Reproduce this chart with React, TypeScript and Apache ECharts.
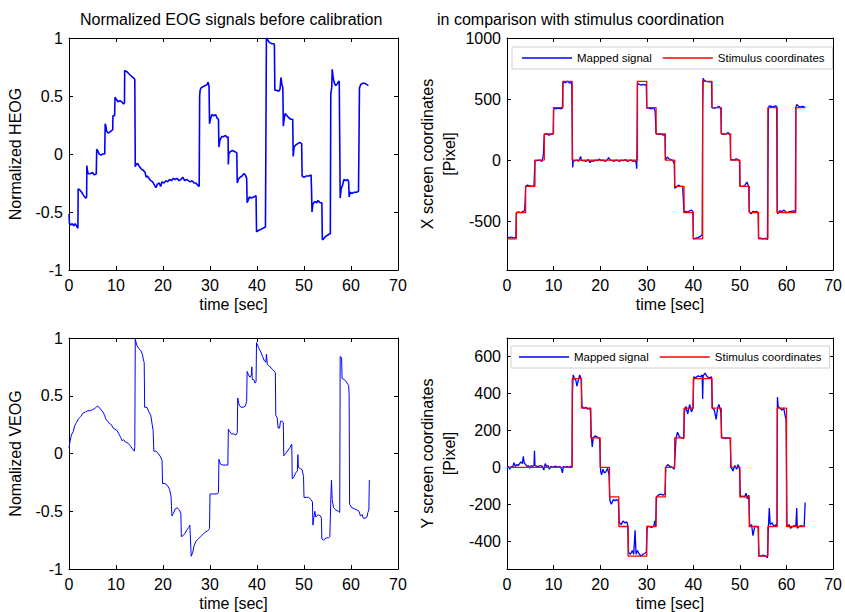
import React, { useEffect, useRef } from 'react';
import * as echarts from 'echarts';

const FONT = 'Liberation Sans, Arial, Helvetica, sans-serif';

const timeRange = [0, 70];
const timeInterval = 10;
const normTicks = [-1, -0.5, 0, 0.5, 1];
const pixelXTicks = [-500, 0, 500, 1000];
const pixelYTicks = [-400, -200, 0, 200, 400, 600];

const titles = ['Normalized EOG signals before calibration', 'in comparison with stimulus coordination'];
const legendNames = ['Mapped signal', 'Stimulus coordinates'];

// Normalized HEOG [time, value]
const heog: [number, number][] = [
  [0, -0.52], [0.1, -0.6], [0.4, -0.61], [0.7, -0.6], [1.0, -0.62], [1.3, -0.6], [1.6, -0.62], [1.9, -0.64],
  [1.95, -0.3], [2.3, -0.31], [2.7, -0.33], [3.0, -0.35], [3.3, -0.37], [3.6, -0.38], [3.75, -0.37],
  [3.8, -0.1], [3.9, -0.14], [4.1, -0.17], [4.5, -0.17], [5.0, -0.16], [5.4, -0.18], [5.8, -0.17],
  [5.9, 0.04], [6.1, 0.03], [6.4, 0.0], [6.8, -0.01], [7.2, 0.0], [7.6, 0.0],
  [7.7, 0.26], [7.85, 0.24], [8.0, 0.2], [8.3, 0.18], [8.7, 0.19], [9.0, 0.2], [9.3, 0.21],
  [9.35, 0.33], [9.7, 0.33], [9.8, 0.49], [10.1, 0.47], [10.4, 0.45], [10.8, 0.46], [11.2, 0.45], [11.6, 0.43], [11.8, 0.44],
  [11.85, 0.72], [12.3, 0.71], [12.8, 0.69], [13.3, 0.67], [13.9, 0.65], [14.0, 0.64],
  [14.1, -0.11], [14.3, -0.09], [14.6, -0.08], [15.0, -0.11], [15.4, -0.13], [15.8, -0.14], [16.2, -0.16], [16.4, -0.2],
  [16.7, -0.19], [17.0, -0.21], [17.4, -0.23], [17.8, -0.24], [18.2, -0.27], [18.5, -0.29], [18.8, -0.26], [19.2, -0.25],
  [19.5, -0.28], [19.8, -0.24], [20.2, -0.25], [20.6, -0.23], [21.0, -0.24], [21.4, -0.22], [21.8, -0.23], [22.2, -0.21],
  [22.6, -0.22], [23.0, -0.21], [23.4, -0.23], [23.8, -0.22], [24.2, -0.2], [24.6, -0.23], [25.0, -0.22], [25.4, -0.23],
  [25.8, -0.24], [26.2, -0.23], [26.6, -0.25], [27.0, -0.25], [27.4, -0.27], [27.7, -0.28],
  [27.8, 0.5], [27.9, 0.55], [28.1, 0.57], [28.5, 0.58], [29.0, 0.59], [29.4, 0.6], [29.6, 0.62], [29.8, 0.58],
  [29.9, 0.26], [30.1, 0.3], [30.4, 0.34], [30.8, 0.33], [31.2, 0.34], [31.5, 0.31], [31.8, 0.3],
  [31.9, 0.06], [32.1, 0.12], [32.5, 0.15], [32.9, 0.15], [33.3, 0.16], [33.7, 0.14], [33.85, 0.15],
  [33.9, -0.09], [34.0, 0.0], [34.3, 0.02], [34.8, 0.03], [35.3, 0.02], [35.7, 0.01],
  [35.8, -0.25], [36.0, -0.22], [36.4, -0.2], [36.8, -0.19], [37.2, -0.17], [37.5, -0.18], [37.8, -0.21],
  [37.9, -0.42], [38.1, -0.4], [38.4, -0.37], [38.8, -0.38], [39.3, -0.37], [39.8, -0.36],
  [39.9, -0.67], [40.3, -0.66], [40.8, -0.65], [41.3, -0.64], [41.8, -0.63], [41.9, -0.63],
  [42.0, 1.0], [42.3, 0.98], [42.7, 0.96], [43.2, 0.95], [43.6, 0.95], [43.7, 0.94],
  [43.8, 0.55], [44.2, 0.55], [44.6, 0.54], [44.9, 0.56], [45.1, 0.66], [45.3, 0.6], [45.5, 0.57],
  [45.6, 0.24], [45.8, 0.31], [46.0, 0.35], [46.4, 0.33], [46.8, 0.31], [47.2, 0.3], [47.6, 0.3],
  [47.7, -0.02], [47.9, 0.06], [48.3, 0.08], [48.7, 0.09], [49.1, 0.1], [49.5, 0.09],
  [49.6, -0.19], [50.0, -0.2], [50.5, -0.19], [51.0, -0.19], [51.5, -0.18], [51.6, -0.3],
  [51.7, -0.5], [51.9, -0.43], [52.3, -0.41], [52.7, -0.42], [53.0, -0.4], [53.4, -0.42], [53.8, -0.42],
  [53.9, -0.74], [54.2, -0.73], [54.6, -0.71], [55.0, -0.7], [55.4, -0.69], [55.6, -0.69],
  [55.7, 0.52], [55.9, 0.57], [56.0, 0.73], [56.2, 0.66], [56.4, 0.62], [56.7, 0.59], [57.0, 0.6], [57.3, 0.62], [57.5, 0.63],
  [57.7, -0.38], [57.9, -0.3], [58.2, -0.27], [58.5, -0.22], [58.9, -0.23], [59.3, -0.22], [59.5, -0.24],
  [59.6, -0.37], [59.8, -0.33], [60.2, -0.34], [60.7, -0.33], [61.2, -0.33], [61.6, -0.32],
  [61.8, 0.57], [62.1, 0.6], [62.5, 0.61], [62.9, 0.61], [63.3, 0.6], [63.7, 0.59],
];

// Normalized VEOG [time, value]
const veog: [number, number][] = [
  [0, 0.05], [0.2, 0.1], [0.5, 0.16], [0.9, 0.19], [1.2, 0.24], [1.6, 0.27], [2.0, 0.3], [2.5, 0.32], [3.0, 0.35],
  [3.5, 0.36], [4.0, 0.37], [4.5, 0.37], [5.0, 0.38], [5.5, 0.39], [6.0, 0.41], [6.4, 0.4], [6.8, 0.38], [7.2, 0.36],
  [7.6, 0.33], [7.8, 0.3], [8.2, 0.28], [8.6, 0.26], [9.0, 0.25], [9.4, 0.22], [9.8, 0.21], [10.2, 0.2], [10.6, 0.17],
  [11.0, 0.14], [11.3, 0.11], [11.6, 0.12], [12.0, 0.1], [12.5, 0.09], [13.0, 0.07], [13.5, 0.04], [13.9, 0.02], [14.0, 0.06],
  [14.1, 0.99], [14.4, 0.94], [14.8, 0.91], [15.3, 0.89], [15.6, 0.86], [15.9, 0.8], [16.0, 0.79],
  [16.1, 0.4], [16.6, 0.4], [17.0, 0.36], [17.4, 0.33], [17.7, 0.25], [17.9, 0.2],
  [18.05, 0.02], [18.5, 0.02], [19.0, 0.0], [19.5, -0.03], [19.8, -0.06],
  [19.9, -0.26], [20.4, -0.26], [21.0, -0.28], [21.4, -0.31], [21.7, -0.37], [21.8, -0.45],
  [21.9, -0.54], [22.2, -0.52], [22.6, -0.48], [23.0, -0.47], [23.5, -0.49], [23.8, -0.52],
  [23.9, -0.72], [24.3, -0.71], [24.7, -0.69], [25.1, -0.66], [25.5, -0.64], [25.7, -0.62], [25.8, -0.7],
  [26.0, -0.89], [26.3, -0.86], [26.6, -0.8], [27.0, -0.76], [27.5, -0.74], [28.0, -0.72], [28.5, -0.7], [29.0, -0.68],
  [29.5, -0.67], [29.9, -0.65],
  [30.0, -0.35], [30.5, -0.35], [31.0, -0.35], [31.5, -0.35], [31.8, -0.34],
  [31.9, -0.05], [32.2, -0.09], [32.7, -0.1], [33.2, -0.1], [33.8, -0.1],
  [33.9, 0.21], [34.2, 0.19], [34.6, 0.17], [35.0, 0.17], [35.5, 0.16], [35.8, 0.18],
  [35.9, 0.48], [36.2, 0.42], [36.6, 0.4], [37.0, 0.4], [37.5, 0.41], [37.8, 0.45],
  [37.9, 0.71], [38.2, 0.68], [38.5, 0.66], [38.8, 0.68], [38.9, 0.75], [39.0, 0.64], [39.3, 0.64], [39.6, 0.61], [39.8, 0.62],
  [39.9, 0.96], [40.3, 0.92], [40.8, 0.88], [41.2, 0.84], [41.6, 0.8], [41.9, 0.79], [42.0, 0.86], [42.2, 0.77],
  [42.6, 0.76], [43.0, 0.74], [43.5, 0.72], [43.9, 0.7],
  [44.0, 0.33], [44.3, 0.31], [44.5, 0.22], [44.8, 0.22], [45.0, 0.28], [45.3, 0.28], [45.6, 0.27],
  [45.7, -0.02], [46.1, 0.0], [46.6, 0.03], [47.0, 0.05], [47.4, 0.08],
  [47.5, -0.22], [47.9, -0.2], [48.2, -0.17], [48.6, -0.15], [48.7, -0.01], [48.8, -0.12], [49.2, -0.13], [49.6, -0.14], [49.9, -0.2],
  [50.0, -0.38], [50.5, -0.38], [51.0, -0.38], [51.5, -0.4], [51.8, -0.42],
  [51.9, -0.62], [52.1, -0.55], [52.3, -0.5], [52.5, -0.55], [53.0, -0.53], [53.5, -0.54], [53.7, -0.56],
  [53.8, -0.74], [54.2, -0.75], [54.7, -0.73], [55.2, -0.73], [55.5, -0.72],
  [55.7, -0.4], [55.85, -0.23], [56.0, -0.4], [56.3, -0.47], [56.8, -0.49], [57.3, -0.5], [57.6, -0.51],
  [57.7, 0.84], [58.0, 0.83], [58.1, 0.65], [58.6, 0.64], [59.0, 0.62], [59.3, 0.6], [59.5, 0.59], [59.6, 0.51],
  [59.7, -0.44], [60.2, -0.47], [60.8, -0.48], [61.3, -0.49], [61.7, -0.5], [62.0, -0.54], [62.4, -0.53],
  [62.6, -0.56], [63.0, -0.56], [63.4, -0.55], [63.6, -0.51], [63.8, -0.49], [63.9, -0.23],
];

// Mapped horizontal signal [time, pixel]
const mappedX: [number, number][] = [
  [0, -630], [0.5, -635], [1.0, -630], [1.5, -640], [1.9, -630],
  [2.0, -430], [2.5, -425], [3.0, -430], [3.5, -420], [3.8, -410], [3.9, -320],
  [4.0, -215], [4.4, -205], [4.8, -210], [5.3, -215], [5.8, -210],
  [6.0, -5], [6.5, -5], [7.0, 0], [7.5, -10], [7.8, 40],
  [8.0, 210], [8.5, 215], [9.0, 205], [9.5, 210], [9.9, 215],
  [10.0, 425], [10.5, 420], [11.0, 425], [11.5, 420], [11.9, 425],
  [12.0, 640], [12.5, 635], [13.0, 645], [13.5, 630], [13.9, 635],
  [14.1, -60], [14.2, -10], [14.6, -5], [15.0, 0], [15.4, -10], [15.8, 30], [16.0, -5], [16.5, -5], [17.0, -10],
  [17.4, 5], [17.8, -20], [18.2, -5], [18.6, -10], [19.0, 0], [19.4, -5], [19.8, 10], [20.2, -5], [20.6, 0],
  [21.0, -10], [21.4, -5], [21.8, 20], [22.2, 0], [22.6, -5], [23.0, -10], [23.4, 0], [23.8, -5], [24.2, -10],
  [24.6, 0], [25.0, -5], [25.4, 5], [25.8, -10], [26.2, -5], [26.6, 0], [27.0, -10], [27.4, -5], [27.7, -15],
  [27.85, -70], [27.9, 100],
  [28.0, 630], [28.4, 620], [28.8, 615], [29.2, 620], [29.6, 615], [29.9, 620],
  [30.0, 425], [30.5, 425], [31.0, 420], [31.5, 430], [31.8, 400],
  [32.0, 215], [32.5, 210], [33.0, 215], [33.5, 205], [33.9, 210],
  [34.0, 0], [34.4, 25], [34.8, 10], [35.2, 5], [35.6, -5], [35.9, -30],
  [36.0, -230], [36.4, -220], [36.8, -205], [37.2, -215], [37.7, -215],
  [38.0, -430], [38.4, -420], [38.8, -425], [39.2, -415], [39.6, -410], [39.9, -420],
  [40.0, -645], [40.5, -640], [41.0, -635], [41.5, -625], [41.9, -610],
  [42.0, 400], [42.1, 670], [42.4, 650], [42.8, 645], [43.3, 640], [43.9, 640],
  [44.0, 430], [44.5, 425], [45.0, 430], [45.5, 440], [45.9, 420],
  [46.0, 215], [46.5, 210], [47.0, 215], [47.5, 225], [47.9, 205],
  [48.0, 0], [48.4, 5], [48.8, 0], [49.2, 10], [49.6, 5], [49.9, -10],
  [50.0, -215], [50.5, -215], [51.0, -210], [51.5, -180], [51.9, -220],
  [52.0, -420], [52.4, -440], [52.8, -420], [53.2, -425], [53.6, -420], [53.9, -430],
  [54.0, -640], [54.5, -640], [55.0, -645], [55.5, -640], [55.9, -650],
  [56.1, 420], [56.3, 445], [56.7, 440], [57.1, 435], [57.5, 445], [57.9, 440],
  [58.0, -420], [58.1, -440], [58.5, -415], [59.0, -420], [59.5, -410], [60.0, -430], [60.5, -425], [61.0, -420],
  [61.5, -415], [61.9, -420],
  [62.0, 430], [62.2, 455], [62.6, 440], [63.0, 435], [63.5, 440], [64.0, 430],
];

// Stimulus horizontal coordinate: [segment start time, pixel]
const stimulusX: [number, number][] = [
  [0, -645], [2, -430], [4, -215], [6, 0], [8, 215], [10, 430], [12, 645], [14, 0], [28, 645], [30, 430],
  [32, 215], [34, 0], [36, -215], [38, -430], [40, -645], [42, 645], [44, 430], [46, 215], [48, 0],
  [50, -215], [52, -430], [54, -645], [56, 430], [58, -430], [62, 430], [64, 430],
];

// Mapped vertical signal [time, pixel]
const mappedY: [number, number][] = [
  [0, 0], [0.3, 5], [0.6, -10], [0.9, 5], [1.2, 0], [1.5, 25], [1.8, 5], [2.1, 15], [2.4, 10], [2.7, 20], [3.0, 30],
  [3.3, 20], [3.5, 60], [3.7, 25], [4.0, 15], [4.3, 5], [4.6, 10], [4.9, -5], [5.2, 10], [5.5, 5], [5.8, 10], [5.9, 90],
  [6.0, 10], [6.4, 5], [6.8, 5], [7.2, 10], [7.6, 5], [7.9, -15], [8.2, 20], [8.5, 5], [8.8, 10], [9.1, -10], [9.4, 5],
  [9.8, 0], [10.2, 5], [10.6, 5], [11.0, 0], [11.4, 5], [11.7, -10], [11.9, -30], [12.1, 5], [12.5, 0], [12.9, 5],
  [13.3, 0], [13.7, 5], [13.95, 0],
  [14.05, 400], [14.2, 500], [14.5, 480], [14.8, 470], [15.0, 440], [15.3, 470], [15.6, 500], [15.9, 480],
  [16.1, 330], [16.5, 320], [16.9, 325], [17.3, 315], [17.7, 320], [17.9, 310],
  [18.1, 170], [18.3, 110], [18.5, 160], [18.9, 170], [19.3, 165], [19.7, 160], [19.9, 150],
  [20.1, -20], [20.3, -40], [20.6, -10], [20.9, -30], [21.2, -25], [21.6, -5], [21.9, -40],
  [22.1, -180], [22.4, -200], [22.8, -175], [23.2, -180], [23.6, -175], [23.9, -180],
  [24.1, -300], [24.5, -310], [24.9, -290], [25.3, -300], [25.7, -295], [25.9, -310],
  [26.1, -460], [26.5, -470], [26.9, -450], [27.2, -470], [27.5, -340], [27.7, -470], [28.0, -450], [28.4, -470],
  [28.8, -480], [29.2, -470], [29.6, -465], [29.9, -460],
  [30.1, -320], [30.5, -320], [31.0, -325], [31.5, -320], [31.7, -290], [31.9, -320],
  [32.1, -160], [32.5, -150], [33.0, -145], [33.5, -150], [33.9, -145],
  [34.1, 0], [34.5, 15], [35.0, 5], [35.5, 0], [35.9, -10],
  [36.1, 80], [36.3, 160], [36.6, 190], [37.0, 165], [37.5, 160], [37.9, 155],
  [38.1, 300], [38.4, 330], [38.8, 290], [39.2, 340], [39.6, 300], [39.9, 320],
  [40.1, 490], [40.5, 485], [41.0, 495], [41.5, 490], [41.9, 500], [42.0, 370], [42.1, 495], [42.5, 510],
  [43.0, 490], [43.5, 485], [43.9, 490],
  [44.1, 320], [44.5, 310], [44.9, 260], [45.2, 320], [45.5, 340], [45.9, 300],
  [46.1, 160], [46.5, 160], [47.0, 155], [47.5, 160], [47.9, 155],
  [48.1, 0], [48.5, -20], [48.9, 10], [49.3, -10], [49.6, 15], [49.9, -5],
  [50.1, -160], [50.5, -155], [51.0, -160], [51.3, -140], [51.6, -170], [51.9, -150],
  [52.1, -320], [52.5, -310], [52.8, -370], [53.2, -320], [53.6, -320], [53.9, -325],
  [54.1, -480], [54.5, -480], [55.0, -475], [55.5, -480], [55.9, -490],
  [56.1, -330], [56.3, -220], [56.5, -310], [56.9, -300], [57.3, -320], [57.7, -310], [57.95, -320],
  [58.05, 380], [58.2, 330], [58.6, 320], [59.0, 310], [59.4, 320], [59.7, 280], [59.9, 260],
  [60.1, -320], [60.5, -310], [60.9, -330], [61.3, -320], [61.7, -315], [62.0, -320], [62.2, -220], [62.3, -330],
  [62.7, -320], [63.1, -315], [63.5, -320], [63.8, -315], [64.0, -190],
];

// Stimulus vertical coordinate: [segment start time, pixel]
const stimulusY: [number, number][] = [
  [0, 0], [14, 480], [16, 320], [18, 160], [20, 0], [22, -160], [24, -320], [26, -480], [30, -320], [32, -160],
  [34, 0], [36, 160], [38, 320], [40, 480], [44, 320], [46, 160], [48, 0], [50, -160], [52, -320], [54, -480],
  [56, -320], [58, 320], [60, -320], [64, -320],
];

const BLACK = '#000000';
const BLUE = '#0000ff';
const RED = '#ff0000';

const plainNumber = (v: number) => String(v);

function xAxes(grid: number) {
  const common = {
    type: 'value',
    gridIndex: grid,
    min: timeRange[0],
    max: timeRange[1],
    interval: timeInterval,
    splitLine: { show: false },
    axisLine: { show: true, onZero: false, lineStyle: { color: BLACK, width: 1 } },
    axisTick: { show: true, inside: true, length: 4, lineStyle: { color: BLACK, width: 1 } },
  };
  return [
    {
      ...common,
      position: 'bottom',
      axisLabel: { color: BLACK, fontSize: 16, fontFamily: FONT, margin: 7, formatter: plainNumber },
      name: 'time [sec]',
      nameLocation: 'middle',
      nameGap: 26,
      nameTextStyle: { color: BLACK, fontSize: 16, fontFamily: FONT },
    },
    { ...common, position: 'top', axisLabel: { show: false } },
  ];
}

function yAxes(grid: number, min: number, max: number, ticks: number[], name: string, nameGap: number) {
  const common = {
    type: 'value',
    gridIndex: grid,
    min,
    max,
    splitLine: { show: false },
    axisLine: { show: true, onZero: false, lineStyle: { color: BLACK, width: 1 } },
    axisTick: { show: true, inside: true, length: 4, customValues: ticks, lineStyle: { color: BLACK, width: 1 } },
  };
  return [
    {
      ...common,
      position: 'left',
      axisLabel: { color: BLACK, fontSize: 16, fontFamily: FONT, margin: 6, customValues: ticks, formatter: plainNumber },
      name,
      nameLocation: 'middle',
      nameGap,
      nameTextStyle: { color: BLACK, fontSize: 16, fontFamily: FONT, lineHeight: 22 },
    },
    { ...common, position: 'right', axisLabel: { show: false } },
  ];
}

function lineSeries(name: string, grid: number, data: [number, number][], color: string, width: number, step?: string) {
  return {
    type: 'line',
    name,
    xAxisIndex: grid * 2,
    yAxisIndex: grid * 2,
    data,
    step: step || false,
    showSymbol: false,
    symbol: 'none',
    color,
    lineStyle: { color, width },
    silent: true,
    emphasis: { disabled: true },
  };
}

function legendAt(left: number, top: number, padLeft: number) {
  return {
    data: legendNames,
    left,
    top,
    orient: 'horizontal',
    icon: 'rect',
    itemWidth: 50,
    itemHeight: 1.5,
    itemGap: 11,
    padding: [5, 8, 5, padLeft],
    backgroundColor: '#ffffff',
    borderColor: '#d4d0c8',
    borderWidth: 1,
    borderRadius: 0,
    selectedMode: false,
    textStyle: { color: BLACK, fontSize: 11.5, fontFamily: FONT },
  };
}

export default function App() {
  const ref = useRef<HTMLDivElement>(null);
  useEffect(() => {
    if (!ref.current) return;
    const chart = echarts.init(ref.current, null, { renderer: 'svg' });
    const option = {
      animation: false,
      backgroundColor: '#ffffff',
      title: [
        { text: titles[0], left: 80, top: 11, padding: 0, textStyle: { color: BLACK, fontSize: 16, fontWeight: 'normal', fontFamily: FONT } },
        { text: titles[1], left: 437, top: 11, padding: 0, textStyle: { color: BLACK, fontSize: 16, fontWeight: 'normal', fontFamily: FONT } },
      ],
      grid: [
        { left: 69, top: 38, width: 329, height: 232, containLabel: false },
        { left: 507, top: 38, width: 328, height: 232, containLabel: false },
        { left: 69, top: 338, width: 329, height: 232, containLabel: false },
        { left: 507, top: 338, width: 328, height: 232, containLabel: false },
      ],
      legend: [legendAt(512, 47, 10), legendAt(511, 346, 8)],
      xAxis: [...xAxes(0), ...xAxes(1), ...xAxes(2), ...xAxes(3)],
      yAxis: [
        ...yAxes(0, -1, 1, normTicks, 'Normalized HEOG', 43),
        ...yAxes(1, -900, 1000, pixelXTicks, 'X screen coordinates\n[Pixel]', 47),
        ...yAxes(2, -1, 1, normTicks, 'Nomalized VEOG', 43),
        ...yAxes(3, -550, 700, pixelYTicks, 'Y screen coordinates\n[Pixel]', 47),
      ],
      series: [
        lineSeries('HEOG', 0, heog, BLUE, 1.6),
        lineSeries(legendNames[0], 1, mappedX, BLUE, 1.3),
        lineSeries(legendNames[1], 1, stimulusX, RED, 1.3, 'end'),
        lineSeries('VEOG', 2, veog, BLUE, 1),
        lineSeries(legendNames[0], 3, mappedY, BLUE, 1.3),
        lineSeries(legendNames[1], 3, stimulusY, RED, 1.3, 'end'),
      ],
    };
    chart.setOption(option as any);
    return () => chart.dispose();
  }, []);
  return (
    <div
      ref={ref}
      style={{ position: 'absolute', left: 0, top: 0, width: 845, height: 612, background: '#ffffff' }}
    />
  );
}
